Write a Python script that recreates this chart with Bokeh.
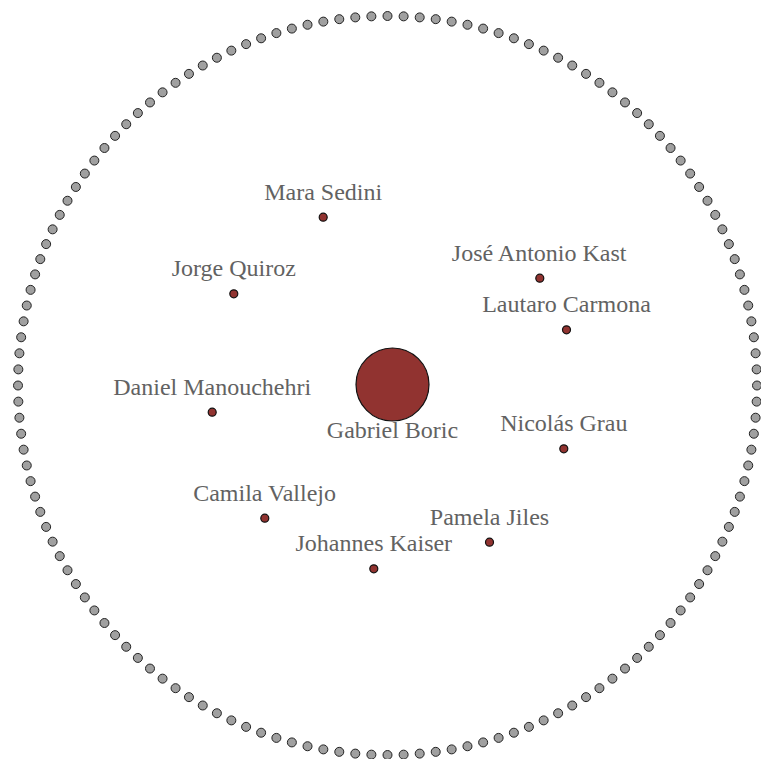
import numpy as np
from bokeh.plotting import figure
from bokeh.models import ColumnDataSource, Range1d
from bokeh.core.properties import value
from bokeh.embed import file_html
from bokeh.resources import INLINE

# ---- data: network layout (centred coordinates, y up) ----
names = ["Gabriel Boric", "Mara Sedini", "Jorge Quiroz", "José Antonio Kast",
         "Lautaro Carmona", "Daniel Manouchehri", "Nicolás Grau",
         "Camila Vallejo", "Johannes Kaiser", "Pamela Jiles"]
node_x = [0.5, -68.8, -158.2, 147.8, 174.5, -179.8, 171.8, -127.2, -18.2, 97.5]
node_y = [1.0, 168.3, 91.7, 107.3, 55.7, -26.7, -63.3, -132.7, -183.3, -156.7]
is_hub = [True, False, False, False, False, False, False, False, False, False]
n_periphery = 144          # grey nodes arranged on the outer ring

# ---- styling ----
W, H = 761, 759
ring_cx, ring_r = -4.5, 369.5
hub_size, node_size = 73, 8

theta = np.arange(n_periphery) * 2 * np.pi / n_periphery + np.pi / 2
ring = ColumnDataSource(dict(x=ring_cx + ring_r * np.cos(theta),
                             y=ring_r * np.sin(theta)))

sizes = [hub_size if h else node_size for h in is_hub]
label_y = [y - (hub_size / 2 + 9) if h else y + 25.5
           for y, h in zip(node_y, is_hub)]
nodes = ColumnDataSource(dict(x=node_x, y=node_y, size=sizes,
                              name=names, ly=label_y))

p = figure(width=W, height=H, output_backend="svg", toolbar_location=None,
           x_range=Range1d(-391.5, -391.5 + W), y_range=Range1d(385 - H, 385),
           min_border=0, outline_line_color=None, background_fill_color="white",
           border_fill_color="white")
p.axis.visible = False
p.grid.visible = False

p.scatter("x", "y", source=ring, size=9, fill_color="#a0a0a0",
          line_color="#222222", line_width=1)
p.scatter("x", "y", source=nodes, size="size", fill_color="#913330",
          line_color="#111111", line_width=1.2)
p.text("x", "ly", text="name", source=nodes, text_align="center",
       text_baseline="alphabetic", text_font=value("Liberation Serif"),
       text_font_size="24px", text_color="#626262")

open("out.html", "w").write(file_html(p, INLINE))
